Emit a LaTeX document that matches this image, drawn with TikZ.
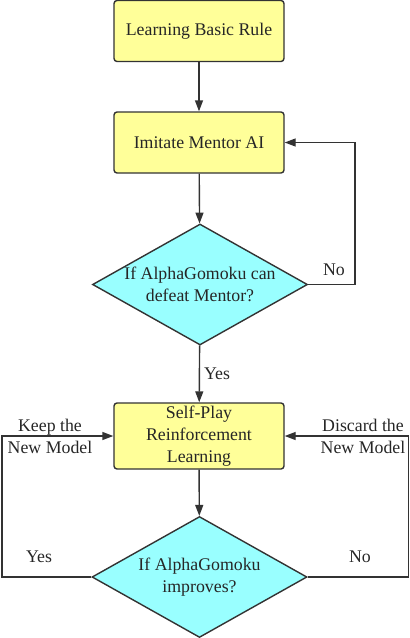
\documentclass[tikz,border=0pt]{standalone}
\usepackage{fontspec}
\setmainfont{Liberation Serif}
\newfontfamily\diagfont{Liberation Serif}
\usetikzlibrary{shapes.geometric,arrows.meta}
\definecolor{boxyellow}{HTML}{FFFF99}
\definecolor{diacyan}{HTML}{99FFFF}
\definecolor{linegray}{HTML}{333333}

\begin{document}
\begin{tikzpicture}[x=1pt,y=-1pt,
        stepbox/.style={draw=linegray,fill=boxyellow,line width=1.4pt,rounded corners=3pt,
          minimum width=170pt,minimum height=61pt,align=center,inner sep=2pt},
        decide/.style={diamond,aspect=1.78,draw=linegray,fill=diacyan,line width=1.4pt,
          minimum width=215pt,minimum height=121pt,align=center,inner sep=-10pt},
        flow/.style={draw=linegray,line width=1.4pt,-{Triangle[length=11pt,width=8pt]}},
        every node/.style={font=\diagfont\fontsize{17.8}{22}\selectfont,text=black!85}]
        \useasboundingbox (0,0) rectangle (410,638);
        % boxes and decisions
        \node[stepbox] (learn) at (199,31) {Learning Basic Rule};
        \node[stepbox] (imitate) at (199,142.5) {Imitate Mentor AI};
        \node[decide] (defeat) at (200,284.5) {If AlphaGomoku can\\defeat Mentor?};
        \node[stepbox,minimum height=66pt] (selfplay) at (199,436) {Self-Play\\Reinforcement\\Learning};
        \node[decide] (improve) at (199.5,577) {If AlphaGomoku\\improves?};
        % loop corners
        \coordinate (noback) at (355,284.5);
        \coordinate (keepback) at (2,577);
        \coordinate (discardback) at (408.5,577);
        % connectors
        \draw[flow] (learn) -- (imitate);
        \draw[flow] (imitate) -- (defeat);
        \draw[flow] (defeat) -- (selfplay);
        \draw[flow] (selfplay) -- (improve);
        \draw[flow] (defeat.east) -- (noback) |- (imitate.east);
        \draw[flow] (improve.west) -- (keepback) |- (selfplay.west);
        \draw[flow] (improve.east) -- (discardback) |- (selfplay.east);
        % labels
        \node (nolbl) at (334,270) {No};
        \node (yeslbl) at (217,374) {Yes};
        \node[align=center] (keeplbl) at (50,436) {Keep the\\New Model};
        \node[align=center] (discardlbl) at (363,436) {Discard the\\New Model};
        \node (yes2lbl) at (39,557) {Yes};
        \node (no2lbl) at (360,557) {No};
\end{tikzpicture}
\end{document}
